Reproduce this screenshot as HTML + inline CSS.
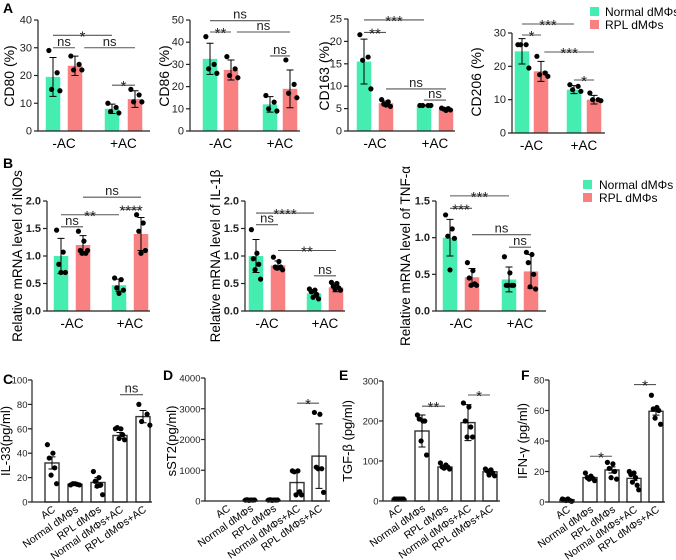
<!DOCTYPE html>
<html><head><meta charset="utf-8">
<style>
html,body{margin:0;padding:0;background:#fff;}
svg{display:block;font-family:"Liberation Sans",Arial,sans-serif;}
</style></head>
<body>
<svg id="fig" width="676" height="560" viewBox="0 0 676 560" xmlns="http://www.w3.org/2000/svg">
<g font-weight="bold" font-size="14" fill="#000">
<text x="3" y="13">A</text>
<text x="3" y="168">B</text>
<text x="3" y="384">C</text>
<text x="163" y="380">D</text>
<text x="339" y="380">E</text>
<text x="521" y="380">F</text>
</g>
<g font-size="12">
<rect x="590" y="7" width="9" height="9" fill="#45eeb0"/>
<text x="605" y="16">Normal dMΦs</text>
<rect x="590" y="20" width="9" height="9" fill="#f88080"/>
<text x="605" y="29">RPL dMΦs</text>
</g>
<g font-size="12">
<rect x="583" y="180" width="9" height="9" fill="#45eeb0"/>
<text x="599" y="189">Normal dMΦs</text>
<rect x="583" y="193" width="9" height="9" fill="#f88080"/>
<text x="599" y="202">RPL dMΦs</text>
</g>
</svg>
<script>
// ---------- data ----------
const groupLabelsAB = ["-AC", "+AC"];
const groupLabelsCF = ["AC", "Normal dMΦs", "RPL dMΦs", "Normal dMΦs+AC", "RPL dMΦs+AC"];

const cd80Bars = [19.5, 23.5, 8, 11.5];
const cd80Err = [7, 3.5, 1.7, 3];
const cd80Pts = [[29, 21, 15, 14.5], [27, 24, 22, 22], [10, 8.5, 7, 6.5], [15, 13, 10.5, 10.5]];
const cd80Sig = [[0, 2, 34.5, "*"], [0, 1, 30, "ns"], [1.25, 3, 30, "ns"], [2, 3, 16.5, "*"]];
const cd80Ticks = [0, 10, 20, 30, 40];

const cd86Bars = [32.5, 27.5, 12, 19];
const cd86Err = [7, 4.5, 3.5, 8.5];
const cd86Pts = [[42.5, 30, 28, 26], [33.5, 28, 25, 24], [16, 13, 10, 9], [32, 21, 17, 15]];
const cd86Sig = [[0, 2, 49.7, "ns"], [0, 1, 44.6, "**"], [1.15, 3, 44.6, "ns"], [2, 3, 33.8, "ns"]];
const cd86Ticks = [0, 10, 20, 30, 40, 50];

const cd163Bars = [15.5, 6.2, 5.7, 4.9];
const cd163Err = [5, 0.5, 0.1, 0.3];
const cd163Pts = [[21.5, 16.5, 15.8, 9.4], [7, 6.5, 6, 5.5, 5.8], [5.7, 5.7, 5.7, 5.7], [5.1, 5, 4.9, 4.7, 4.6]];
const cd163Sig = [[0, 2, 24.8, "***"], [0, 1, 22, "**"], [1, 3, 9.4, "ns"], [2, 3, 6.9, "ns"]];
const cd163Ticks = [0, 5, 10, 15, 20, 25];

const cd206Bars = [24.5, 18.5, 13, 10];
const cd206Err = [3.8, 3, 1.2, 1.3];
const cd206Pts = [[26.5, 26.5, 26.5, 19.5], [23, 18, 17.5, 17], [14.5, 14, 13, 12.5], [12, 10, 10, 9.7]];
const cd206Sig = [[0, 2, 32.7, "***"], [0, 1, 29.4, "*"], [1.1, 3, 24.3, "***"], [2, 3, 15.9, "*"]];
const cd206Ticks = [0, 10, 20, 30];

const inosBars = [1.0, 1.2, 0.47, 1.4];
const inosErr = [0.32, 0.17, 0.11, 0.3];
const inosPts = [[1.47, 1.07, 0.85, 0.7, 0.7], [1.45, 1.27, 1.1, 1.05, 1.05, 1.1], [0.6, 0.57, 0.42, 0.38, 0.32], [1.75, 1.6, 1.45, 1.1, 1.05]];
const inosSig = [[1, 3, 2.07, "ns"], [0, 2, 1.75, "**"], [0, 1, 1.53, "ns"], [2.1, 3, 1.85, "****"]];
const mrnaTicks = [0, 0.5, 1.0, 1.5, 2.0];

const il1bBars = [1.0, 0.83, 0.32, 0.43];
const il1bErr = [0.3, 0.08, 0.07, 0.08];
const il1bPts = [[1.48, 1.05, 0.95, 0.85, 0.75, 0.58], [0.98, 0.9, 0.8, 0.8, 0.78, 0.75], [0.4, 0.38, 0.35, 0.3, 0.25, 0.22], [0.52, 0.5, 0.45, 0.42, 0.4, 0.38]];
const il1bSig = [[0, 2, 1.78, "****"], [0, 1, 1.57, "ns"], [1, 3, 1.1, "**"], [2, 3, 0.64, "ns"]];

const tnfBars = [1.0, 0.46, 0.43, 0.54];
const tnfErr = [0.25, 0.12, 0.17, 0.23];
const tnfPts = [[1.31, 1.12, 1.02, 0.99, 0.56], [0.66, 0.55, 0.45, 0.37, 0.35, 0.35], [0.74, 0.52, 0.35, 0.35, 0.35, 0.35], [0.8, 0.77, 0.66, 0.5, 0.33, 0.3]];
const tnfSig = [[0, 2, 1.57, "***"], [0, 1, 1.4, "***"], [1, 3, 1.04, "ns"], [2, 3, 0.87, "ns"]];
const tnfTicks = [0, 0.5, 1.0, 1.5];

const il33Bars = [32, 14.5, 16, 54.5, 70];
const il33Err = [5, 0.5, 4, 2.5, 5];
const il33Pts = [[47, 40, 36, 28, 22, 15], [14, 14.5, 15, 14, 15], [25, 20, 17, 14, 13, 6], [60, 60, 61, 55, 52, 51], [80, 72, 66, 63]];
const il33Sig = [[3, 4, 88, "ns"]];
const il33Ticks = [0, 20, 40, 60, 80, 100];

const sst2Bars = [0, 30, 30, 600, 1460];
const sst2Err = [0, 5, 5, 370, 1050];
const sst2Pts = [[], [30, 35, 40, 30, 25, 35], [30, 35, 40, 30, 25, 35], [980, 980, 950, 300, 200, 200], [2880, 2820, 1100, 1050, 1050, 280]];
const sst2Sig = [[3, 4, 3180, "*"]];
const sst2Ticks = [0, 1000, 2000, 3000, 4000];

const tgfBars = [5, 175, 85, 196, 73];
const tgfErr = [1, 40, 5, 45, 6];
const tgfPts = [[5, 5, 5, 5, 5], [215, 200, 205, 200, 150, 115], [95, 90, 85, 85, 82, 80], [245, 235, 200, 185, 160, 160], [80, 78, 75, 70, 65, 63]];
const tgfSig = [[1, 2, 237, "**"], [3, 4, 265, "*"]];
const tgfTicks = [0, 100, 200, 300];

const ifnBars = [1.5, 16, 21, 15.5, 59.5];
const ifnErr = [0.3, 1, 2, 1.5, 2.5];
const ifnPts = [[2, 2, 1.5, 1, 1, 0.5], [19, 17, 16, 15.5, 15, 14], [26, 25, 22, 20, 16, 15], [20, 19, 18, 16, 13, 11, 8], [70, 62, 61, 60, 55, 51]];
const ifnSig = [[1, 2, 30, "*"], [3, 4, 77, "*"]];
const ifnTicks = [0, 20, 40, 60, 80];

// ---------- drawing ----------
const NS = "http://www.w3.org/2000/svg";
const svg = document.getElementById("fig");
const GREEN = "#45eeb0", RED = "#f88080";
function mk(tag, attrs, parent) {
  const e = document.createElementNS(NS, tag);
  for (const k in attrs) e.setAttribute(k, attrs[k]);
  parent.appendChild(e);
  return e;
}
function fmt(v, dec) { return dec ? v.toFixed(1) : String(v); }

function drawPanel(name, lay, bars, errs, pts, sig, ticks, ylabel, xlabels) {
  const g = mk("g", {}, svg);
  
  
  const ymax = ticks[ticks.length - 1];
  const y = v => lay.y0 - v / ymax * (lay.y0 - lay.top);
  const cx = f => { const i = Math.min(Math.floor(f), lay.c.length - 2); return lay.c[i] + (f - i) * (lay.c[i + 1] - lay.c[i]); };
  bars.forEach((v, i) => {
    const fill = lay.cf ? "#fff" : (i % 2 === 0 ? GREEN : RED);
    const r = mk("rect", { x: lay.c[i] - lay.bw / 2, y: y(v), width: lay.bw, height: Math.max(0, lay.y0 - y(v)), fill: fill, stroke: lay.cf ? "#333" : "none", "stroke-width": lay.cf ? 1.4 : 0 }, g);
    
    
  });
  pts.forEach((arr, i) => {
    const n = arr.length;
    const sp = Math.min(3.2, 11 / Math.max(n, 1));
    arr.forEach((v, k) => {
      const order = [0, 3, 1, 4, 2, 5, 6][k % 7];
      const off = (order - (n - 1) / 2) * sp;
      const c = mk("circle", { cx: lay.c[i] + off, cy: y(v), r: 2.6, fill: "#000" }, g);
      
      
    });
  });
  errs.forEach((e, i) => {
    if (!e) return;
    const x = lay.c[i], v = bars[i];
    const eb = mk("path", { d: `M${x},${y(v + e)}V${y(Math.max(0, v - e))}M${x - 3.5},${y(v + e)}H${x + 3.5}M${x - 3.5},${y(Math.max(0, v - e))}H${x + 3.5}`, stroke: "#000", "stroke-width": 1, fill: "none" }, g);
    
    
  });
  const ax = mk("path", { d: `M${lay.ax},${lay.top}V${lay.y0}H${lay.end}`, stroke: "#222", "stroke-width": 1.2, fill: "none" }, g);
  
  
  ticks.forEach(t => {
    const tk = mk("path", { d: `M${lay.ax - 4},${y(t)}H${lay.ax}`, stroke: "#222", "stroke-width": 1.2 }, g);
    
    
    const tl = mk("text", { x: lay.ax - (lay.cf ? 4.5 : 6), y: y(t) + 3.5, "text-anchor": "end", "font-size": lay.tfs, "font-weight": lay.tb ? "bold" : "normal", fill: "#222" }, g);
    tl.textContent = fmt(t, lay.dec);
    
    
  });
  if (lay.cf) {
    xlabels.forEach((s, i) => {
      const tx = lay.c[i] + 4, ty = lay.y0 + 9;
      const t = mk("text", { x: tx, y: ty, "text-anchor": "end", "font-size": 10.5, transform: `rotate(-35 ${tx} ${ty})` }, g);
      t.textContent = s;
      
      
    });
  } else {
    xlabels.forEach((s, i) => {
      const t = mk("text", { x: (lay.c[2 * i] + lay.c[2 * i + 1]) / 2, y: lay.y0 + 17, "text-anchor": "middle", "font-size": 13.5 }, g);
      t.textContent = s;
      
      
    });
  }
  const yl = mk("text", { x: 0, y: 0, "text-anchor": "middle", "font-size": lay.yfs, transform: `translate(${lay.ylx},${lay.yly}) rotate(-90)` }, g);
  yl.textContent = ylabel;
  
  
  sig.forEach(s => {
    const x1 = cx(s[0]), x2 = cx(s[1]), yy = y(s[2]);
    const ln = mk("path", { d: `M${x1},${yy}H${x2}`, stroke: "#555", "stroke-width": 1.1 }, g);
    
    
    const star = s[3] !== "ns";
    const t = mk("text", { x: (x1 + x2) / 2, y: star ? yy + 6 : yy - 2, "text-anchor": "middle", "font-size": star ? 15 : 13, fill: "#222" }, g);
    t.textContent = s[3];
    
    
  });
}

const A = { y0: 131, bw: 14.5, tfs: 11, yfs: 14, dec: false };
drawPanel("chart-cd80", Object.assign({}, A, { top: 20, ax: 38, end: 150, c: [53, 75, 112, 135], ylx: 14, yly: 76 }), cd80Bars, cd80Err, cd80Pts, cd80Sig, cd80Ticks, "CD80 (%)", groupLabelsAB);
drawPanel("chart-cd86", Object.assign({}, A, { top: 20, ax: 190, end: 300, c: [210, 231, 270, 290], ylx: 169, yly: 76 }), cd86Bars, cd86Err, cd86Pts, cd86Sig, cd86Ticks, "CD86 (%)", groupLabelsAB);
drawPanel("chart-cd163", Object.assign({}, A, { top: 19, ax: 348, end: 455, c: [364, 386, 424, 446], ylx: 329, yly: 76 }), cd163Bars, cd163Err, cd163Pts, cd163Sig, cd163Ticks, "CD163 (%)", groupLabelsAB);
drawPanel("chart-cd206", Object.assign({}, A, { y0: 133, top: 33, ax: 512, end: 605, c: [522, 541, 574, 594], ylx: 481, yly: 82 }), cd206Bars, cd206Err, cd206Pts, cd206Sig, cd206Ticks, "CD206 (%)", groupLabelsAB);

const B = { y0: 311, top: 201, bw: 14.5, tfs: 11, tb: true, yfs: 13.5, dec: true, yly: 256 };
drawPanel("chart-inos", Object.assign({}, B, { ax: 47, end: 150, c: [61, 83, 119, 141], ylx: 22 }), inosBars, inosErr, inosPts, inosSig, mrnaTicks, "Relative mRNA level of iNOs", groupLabelsAB);
drawPanel("chart-il1b", Object.assign({}, B, { ax: 245, end: 345, c: [256, 278, 314, 336], ylx: 220 }), il1bBars, il1bErr, il1bPts, il1bSig, mrnaTicks, "Relative mRNA level of IL-1β", groupLabelsAB);
drawPanel("chart-tnf", Object.assign({}, B, { ax: 436, end: 546, c: [450, 472, 509, 531], ylx: 410 }), tnfBars, tnfErr, tnfPts, tnfSig, tnfTicks, "Relative mRNA level of TNF-α", groupLabelsAB);

const C = { cf: true, bw: 14, tfs: 9.5, yfs: 13, dec: false, yly: 441 };
drawPanel("chart-il33", Object.assign({}, C, { y0: 502, top: 380, ax: 32, end: 152, c: [52, 75, 98, 120, 143], ylx: 10 }), il33Bars, il33Err, il33Pts, il33Sig, il33Ticks, "IL-33(pg/ml)", groupLabelsCF);
drawPanel("chart-sst2", Object.assign({}, C, { y0: 501, top: 378, ax: 205, end: 330, c: [227, 250, 273, 297, 319], ylx: 176 }), sst2Bars, sst2Err, sst2Pts, sst2Sig, sst2Ticks, "sST2(pg/ml)", groupLabelsCF);
drawPanel("chart-tgfb", Object.assign({}, C, { y0: 501, top: 381, ax: 383, end: 500, c: [399, 422, 445, 468, 490], ylx: 352 }), tgfBars, tgfErr, tgfPts, tgfSig, tgfTicks, "TGF-β (pg/ml)", groupLabelsCF);
drawPanel("chart-ifng", Object.assign({}, C, { y0: 502, top: 380, ax: 549, end: 665, c: [567, 590, 612, 634, 656], ylx: 527 }), ifnBars, ifnErr, ifnPts, ifnSig, ifnTicks, "IFN-γ (pg/ml)", groupLabelsCF);
</script>
</body></html>
